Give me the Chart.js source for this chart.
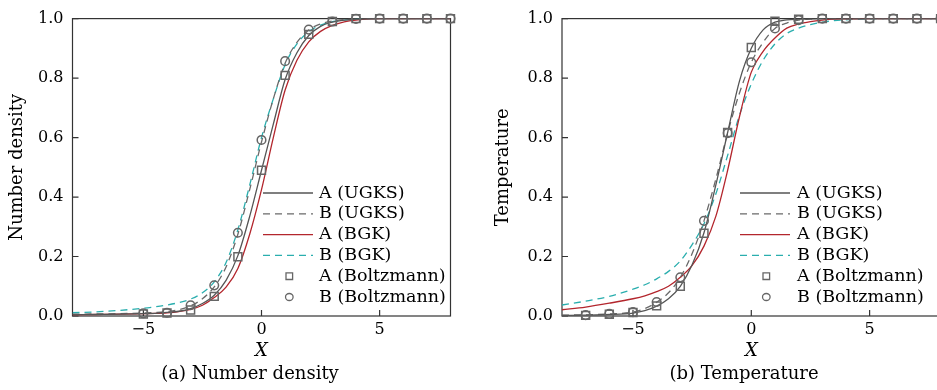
<!DOCTYPE html>
<html lang="en">
<head>
    <meta charset="UTF-8">
    <title>Number density and temperature profiles</title>
    <script src="https://cdn.jsdelivr.net/npm/chart.js"></script>
    <style>
        body {
            margin: 0;
            width: 937px;
            height: 390px;
            overflow: hidden;
            position: relative;
            background: #fff;
            font-family: "DejaVu Serif", serif;
        }
        .panel { position: absolute; top: 0; height: 390px; }
        #panelA { left: 0; width: 467px; }
        #panelB { left: 467px; width: 500px; }
        .caption {
            position: absolute;
            top: 362px;
            font-size: 18px;
            line-height: 22px;
            color: #000;
            white-space: nowrap;
            transform: translateX(-50%);
        }
    </style>
</head>
<body>
    <div class="panel" id="panelA"><canvas id="chartA"></canvas></div>
    <div class="panel" id="panelB"><canvas id="chartB"></canvas></div>
    <div class="caption" style="left: 250px;">(a) Number density</div>
    <div class="caption" style="left: 744px;">(b) Temperature</div>

    <script>
        // axis ticks
        const xTicks = [-5, 0, 5];
        const yTicks = [0, 0.2, 0.4, 0.6, 0.8, 1.0];

        const seriesNames = ['A (UGKS)', 'B (UGKS)', 'A (BGK)', 'B (BGK)', 'A (Boltzmann)', 'B (Boltzmann)'];

        // x positions of the continuous curves
        const lineX = [-8, -7, -6, -5, -4.5, -4, -3.5, -3, -2.5, -2, -1.5, -1, -0.5, 0, 0.5, 1, 1.5, 2, 2.5, 3, 3.5, 4, 5, 6, 7, 8];

        // (a) number density
        const densAUgks = [0.004, 0.005, 0.006, 0.008, 0.009, 0.012, 0.016, 0.025, 0.042, 0.07, 0.12, 0.203, 0.335, 0.49, 0.645, 0.795, 0.885, 0.943, 0.974, 0.988, 0.995, 0.998, 1, 1, 1, 1];
        const densBUgks = [0.006, 0.007, 0.008, 0.010, 0.012, 0.015, 0.021, 0.034, 0.058, 0.098, 0.165, 0.275, 0.425, 0.585, 0.73, 0.85, 0.92, 0.962, 0.982, 0.992, 0.997, 0.999, 1, 1, 1, 1];
        const densABgk = [0.004, 0.005, 0.006, 0.008, 0.009, 0.011, 0.015, 0.022, 0.036, 0.062, 0.097, 0.16, 0.275, 0.425, 0.6, 0.76, 0.86, 0.922, 0.957, 0.977, 0.989, 0.995, 1, 1, 1, 1];
        const densBBgk = [0.011, 0.014, 0.019, 0.026, 0.031, 0.037, 0.045, 0.057, 0.078, 0.115, 0.18, 0.29, 0.44, 0.6, 0.73, 0.845, 0.915, 0.956, 0.978, 0.99, 0.995, 0.998, 1, 1, 1, 1];
        const densMarkX = [-5, -4, -3, -2, -1, 0, 1, 2, 3, 4, 5, 6, 7, 8];
        const densABoltz = [0.007, 0.01, 0.02, 0.066, 0.199, 0.49, 0.809, 0.947, 0.99, 1, 1, 1, 1, 1];
        const densBBoltz = [0.009, 0.011, 0.036, 0.103, 0.28, 0.592, 0.857, 0.963, 0.99, 0.999, 1, 1, 1, 1];

        // (b) temperature
        const tempAUgks = [0.002, 0.003, 0.005, 0.01, 0.018, 0.033, 0.058, 0.1, 0.172, 0.28, 0.44, 0.617, 0.79, 0.9, 0.962, 0.988, 0.996, 0.998, 0.999, 1, 1, 1, 1, 1, 1, 1];
        const tempBUgks = [0.003, 0.004, 0.007, 0.013, 0.025, 0.046, 0.078, 0.13, 0.21, 0.32, 0.46, 0.615, 0.75, 0.853, 0.92, 0.967, 0.985, 0.995, 0.998, 1, 1, 1, 1, 1, 1, 1];
        const tempABgk = [0.021, 0.03, 0.043, 0.058, 0.068, 0.082, 0.1, 0.13, 0.17, 0.235, 0.335, 0.49, 0.67, 0.82, 0.89, 0.935, 0.968, 0.982, 0.99, 0.995, 0.998, 0.999, 1, 1, 1, 1];
        const tempBBgk = [0.037, 0.05, 0.066, 0.09, 0.105, 0.125, 0.15, 0.185, 0.24, 0.31, 0.41, 0.54, 0.675, 0.78, 0.86, 0.915, 0.95, 0.968, 0.98, 0.988, 0.993, 0.996, 0.999, 1, 1, 1];
        const tempMarkX = [-7, -6, -5, -4, -3, -2, -1, 0, 1, 2, 3, 4, 5, 6, 7, 8];
        const tempABoltz = [0.002, 0.006, 0.012, 0.034, 0.1, 0.278, 0.617, 0.903, 0.991, 0.998, 1, 1, 1, 1, 1, 1];
        const tempBBoltz = [0.003, 0.007, 0.013, 0.047, 0.13, 0.32, 0.615, 0.853, 0.967, 0.995, 1, 1, 1, 1, 1, 1];

        const FONT = '"DejaVu Serif", serif';
        const pts = (xs, ys) => xs.map((x, i) => ({ x: x, y: ys[i] }));

        function lineSet(label, xs, ys, color, dash) {
            return {
                label, data: pts(xs, ys), borderColor: color, borderWidth: 1.3,
                borderDash: dash, pointRadius: 0, cubicInterpolationMode: 'monotone',
                fill: false, order: 1
            };
        }
        function markSet(label, xs, ys, style, radius) {
            return {
                label, data: pts(xs, ys), showLine: false, pointStyle: style,
                pointRadius: radius, pointBorderColor: '#666', pointBorderWidth: 1.5,
                pointBackgroundColor: 'rgba(0,0,0,0)', clip: false, order: 0
            };
        }

        // frame + inward ticks before the data, legend after
        const framePlugin = {
            id: 'frame',
            beforeDatasetsDraw(chart) {
                const { ctx, chartArea: a, scales } = chart;
                ctx.save();
                ctx.strokeStyle = '#333';
                ctx.lineWidth = 1.2;
                ctx.strokeRect(a.left, a.top, a.right - a.left, a.bottom - a.top);
                ctx.beginPath();
                xTicks.forEach(v => {
                    const px = scales.x.getPixelForValue(v);
                    ctx.moveTo(px, a.bottom); ctx.lineTo(px, a.bottom - 6);
                });
                yTicks.forEach(v => {
                    const py = scales.y.getPixelForValue(v);
                    ctx.moveTo(a.left, py); ctx.lineTo(a.left + 6, py);
                });
                ctx.stroke();
                ctx.restore();
            },
            afterDraw(chart, args, opts) {
                const ctx = chart.ctx;
                ctx.save();
                ctx.font = '17.5px ' + FONT;
                ctx.textBaseline = 'middle';
                chart.data.datasets.forEach((ds, i) => {
                    const y = opts.y + i * 20.8;
                    const x0 = opts.x;
                    if (ds.showLine === false) {
                        ctx.strokeStyle = '#666';
                        ctx.lineWidth = 1.3;
                        ctx.beginPath();
                        if (ds.pointStyle === 'rect') {
                            ctx.rect(x0 + 23, y - 3.3, 6.6, 6.6);
                        } else {
                            ctx.ellipse(x0 + 26.3, y, 3.8, 3.5, 0, 0, Math.PI * 2);
                        }
                        ctx.stroke();
                    } else {
                        ctx.strokeStyle = ds.borderColor;
                        ctx.lineWidth = 1.3;
                        ctx.setLineDash(ds.borderDash || []);
                        ctx.beginPath();
                        ctx.moveTo(x0, y); ctx.lineTo(x0 + 50, y);
                        ctx.stroke();
                        ctx.setLineDash([]);
                    }
                    ctx.fillStyle = '#000';
                    ctx.fillText(ds.label, x0 + opts.gap, y);
                });
                ctx.restore();
            }
        };

        function makeChart(id, yTitle, series, opt) {
            const datasets = [
                lineSet(seriesNames[0], lineX, series[0], '#555555', []),
                lineSet(seriesNames[1], lineX, series[1], '#6a6a6a', [7, 5]),
                lineSet(seriesNames[2], lineX, series[2], '#b3262d', []),
                lineSet(seriesNames[3], lineX, series[3], '#2aaeae', [7, 5]),
                markSet(seriesNames[4], series[4], series[5], 'rect', 5.6),
                markSet(seriesNames[5], series[4], series[6], 'circle', 4.3)
            ];
            return new Chart(document.getElementById(id), {
                type: 'line',
                data: { datasets },
                plugins: [framePlugin],
                options: {
                    responsive: true,
                    maintainAspectRatio: false,
                    animation: false,
                    layout: { padding: { top: 14, right: opt.padRight, bottom: 28, left: 0 } },
                    plugins: {
                        legend: { display: false },
                        tooltip: { enabled: false },
                        frame: { x: opt.legendX, y: 193, gap: opt.legendGap }
                    },
                    scales: {
                        x: {
                            type: 'linear', min: -8, max: 8,
                            grid: { display: false, drawTicks: false },
                            border: { display: false },
                            afterBuildTicks: s => { s.ticks = xTicks.map(v => ({ value: v })); },
                            afterFit: s => { s.height = 46; },
                            ticks: {
                                padding: 4, color: '#000', font: { family: FONT, size: 16 },
                                callback: v => v < 0 ? '\u2212' + Math.abs(v) : String(v)
                            },
                            title: {
                                display: true, text: 'X', color: '#000',
                                font: { family: FONT, size: 18, style: 'italic' },
                                padding: { top: 0, bottom: 0 }
                            }
                        },
                        y: {
                            min: 0, max: 1,
                            grid: { display: false, drawTicks: false },
                            border: { display: false },
                            afterBuildTicks: s => { s.ticks = yTicks.map(v => ({ value: v })); },
                            afterFit: s => { s.width = opt.yWidth; },
                            ticks: {
                                padding: 9, color: '#000', font: { family: FONT, size: 16 },
                                callback: v => v.toFixed(1)
                            },
                            title: {
                                display: true, text: yTitle, color: '#000',
                                font: { family: FONT, size: 18 },
                                padding: { top: opt.titlePad, bottom: 0 }
                            }
                        }
                    }
                }
            });
        }

        makeChart('chartA', 'Number density',
            [densAUgks, densBUgks, densABgk, densBBgk, densMarkX, densABoltz, densBBoltz],
            { padRight: 16.5, yWidth: 72.5, titlePad: 7, legendX: 263, legendGap: 56 });

        makeChart('chartB', 'Temperature',
            [tempAUgks, tempBUgks, tempABgk, tempBBgk, tempMarkX, tempABoltz, tempBBoltz],
            { padRight: 26.4, yWidth: 95, titlePad: 26, legendX: 273, legendGap: 57 });
    </script>
</body>
</html>
